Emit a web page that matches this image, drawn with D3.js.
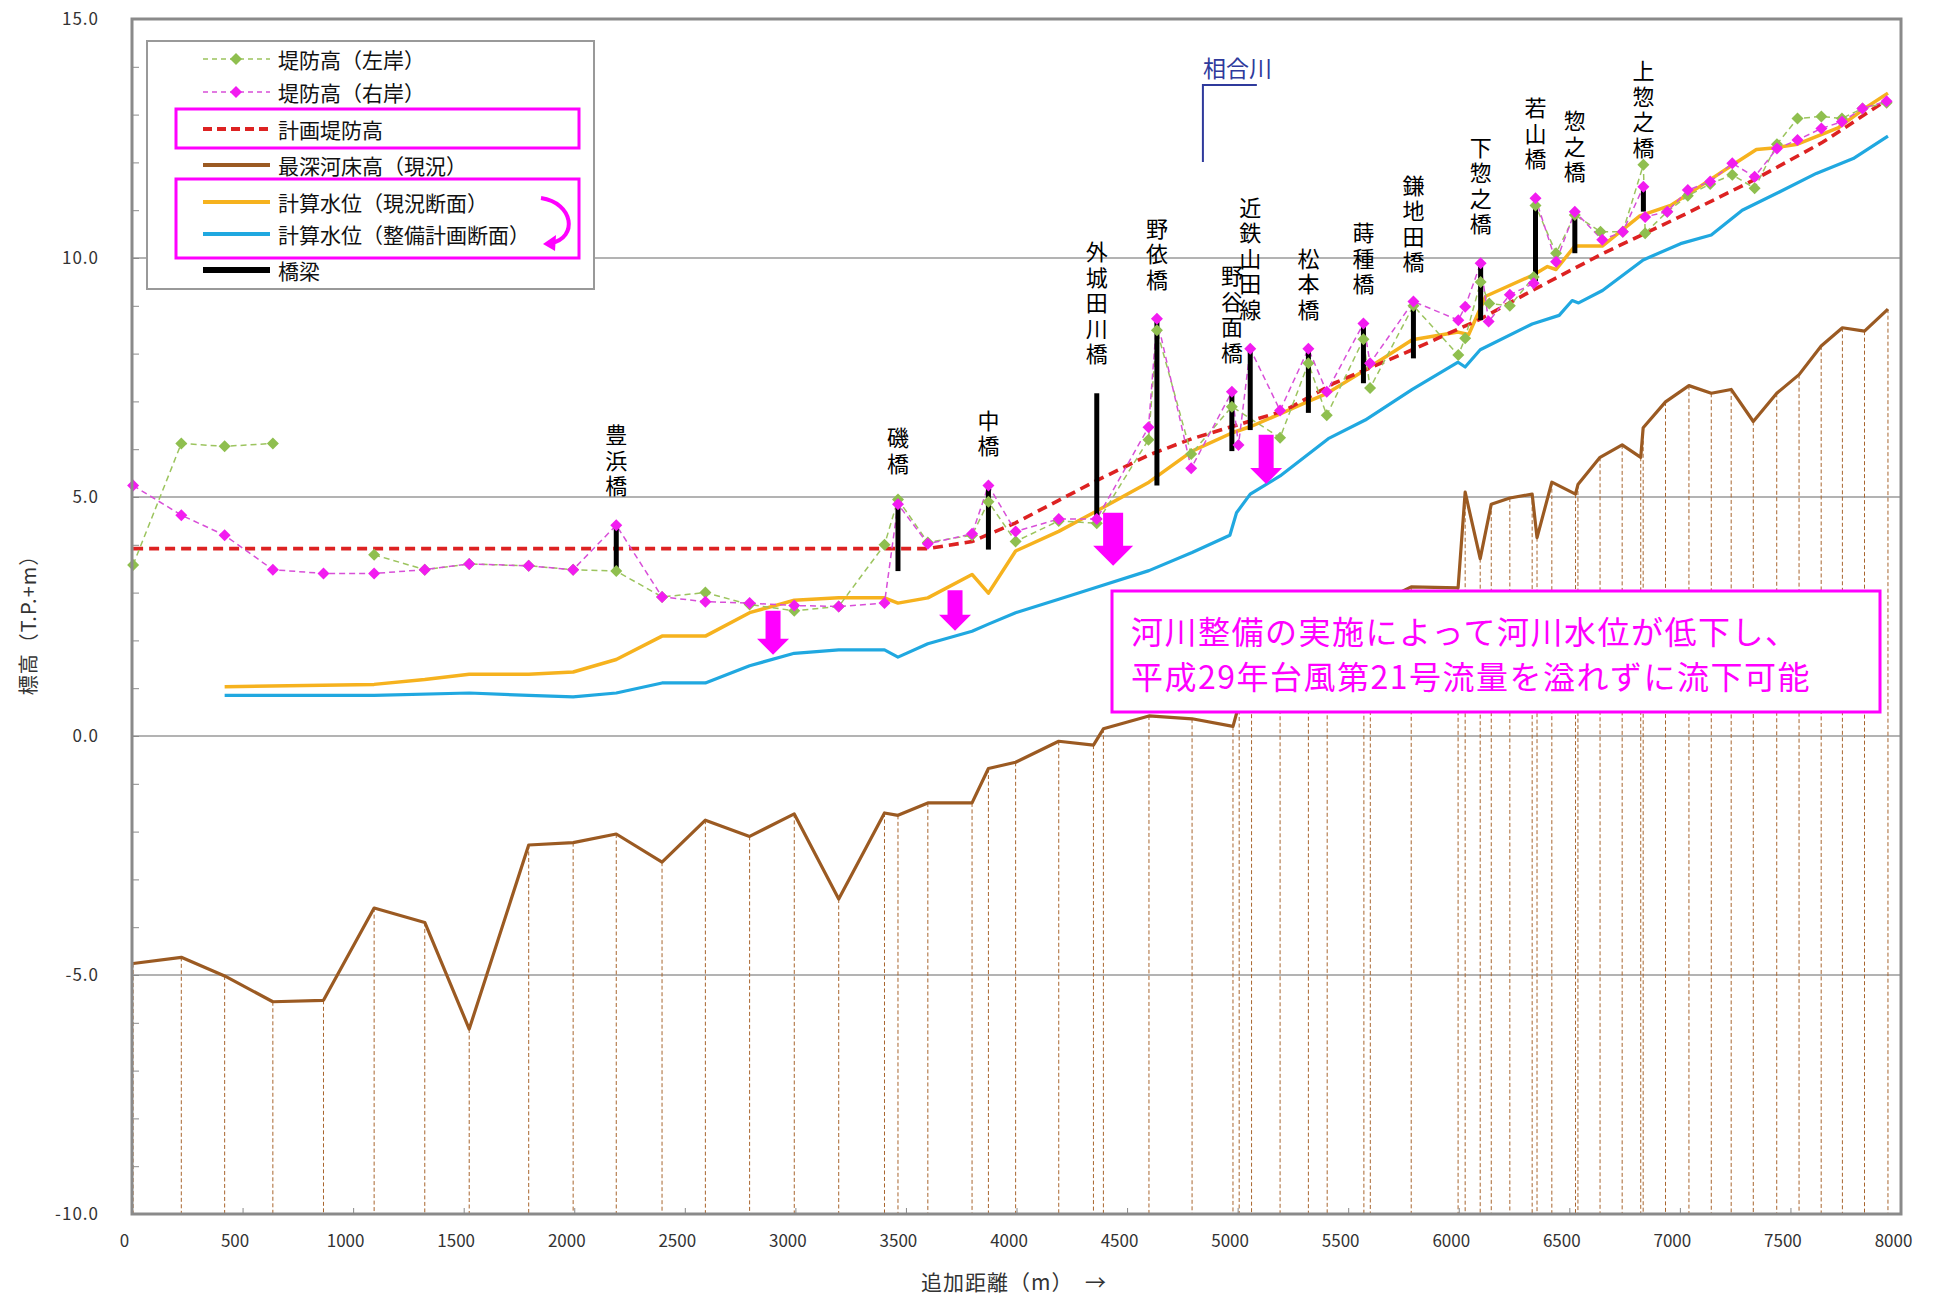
<!DOCTYPE html>
<html lang="ja">
<head>
<meta charset="UTF-8">
<title>縦断図 | 計算水位</title>
<style>
  body { margin: 0; background: #fff; }
  svg { display: block; }
  text { font-family: 'Noto Sans CJK JP', sans-serif; }
  .vert { writing-mode: vertical-rl; text-orientation: upright; }
</style>
</head>
<body>
<svg id="chart" width="1937" height="1295"></svg>
<script src="https://cdn.jsdelivr.net/npm/d3@7/dist/d3.min.js"></script>
<script>
// 追加距離(m) と 標高(T.P.+m)
var leftBankX  = [5, 223, 419, 637, 866, 1095, 1324, 1525, 1794, 1995, 2190, 2397, 2593, 2793, 2995, 3196, 3403, 3464, 3599, 3799, 3873, 3996, 4191, 4363, 4597, 4635, 4790, 4974, 5192, 5320, 5403, 5569, 5599, 5795, 5998, 6029, 6099, 6138, 6231, 6339, 6347, 6440, 6525, 6641, 6742, 6835, 6843, 6943, 7036, 7137, 7237, 7338, 7439, 7532, 7640, 7733, 7826, 7935];
var leftBankY  = [3.58, 6.12, 6.06, 6.12, null, 3.79, 3.48, 3.60, 3.56, 3.48, 3.45, 2.91, 3.00, 2.75, 2.62, 2.71, 4.00, 4.95, 4.05, 4.20, 4.90, 4.07, 4.50, 4.45, 6.20, 8.49, 5.90, 6.89, 6.24, 7.80, 6.71, 8.30, 7.28, 9.00, 7.97, 8.32, 9.50, 9.05, 9.00, 9.60, 11.10, 10.10, 10.90, 10.55, 10.55, 11.95, 10.52, 10.97, 11.30, 11.55, 11.74, 11.46, 12.38, 12.92, 12.96, 12.92, 13.13, 13.25];

var rightBankX = [5, 223, 419, 637, 866, 1095, 1324, 1525, 1794, 1995, 2190, 2397, 2593, 2793, 2995, 3196, 3403, 3464, 3599, 3799, 3873, 3996, 4191, 4363, 4597, 4635, 4790, 4974, 5004, 5057, 5192, 5320, 5403, 5569, 5599, 5795, 5998, 6029, 6099, 6135, 6231, 6339, 6347, 6440, 6525, 6649, 6742, 6835, 6843, 6943, 7036, 7137, 7237, 7338, 7439, 7532, 7640, 7733, 7826, 7935];
var rightBankY = [5.24, 4.62, 4.20, 3.48, 3.40, 3.40, 3.48, 3.60, 3.56, 3.48, 4.41, 2.91, 2.81, 2.78, 2.73, 2.71, 2.78, 4.85, 4.02, 4.23, 5.24, 4.28, 4.54, 4.54, 6.46, 8.73, 5.60, 7.20, 6.09, 8.10, 6.81, 8.10, 7.20, 8.63, 7.80, 9.09, 8.70, 8.98, 9.89, 8.67, 9.23, 9.47, 11.25, 9.92, 10.97, 10.38, 10.55, 11.49, 10.86, 10.97, 11.42, 11.60, 11.98, 11.70, 12.29, 12.47, 12.71, 12.85, 13.13, 13.28];

var planLeveeX = [5, 3599, 3799, 3996, 4191, 4348, 4599, 4794, 4979, 5214, 5436, 5790, 6097, 6332, 6650, 7003, 7338, 7645, 7941];
var planLeveeY = [3.92, 3.92, 4.07, 4.46, 4.93, 5.31, 5.88, 6.22, 6.48, 6.81, 7.38, 8.08, 8.72, 9.32, 10.09, 10.87, 11.64, 12.42, 13.32];

var bedX = [5, 223, 419, 637, 866, 1095, 1324, 1525, 1794, 1995, 2190, 2397, 2593, 2793, 2995, 3196, 3403, 3464, 3599, 3799, 3873, 3996, 4191, 4348, 4393, 4599, 4794, 4979, 5007, 5063, 5192, 5320, 5405, 5571, 5600, 5785, 5997, 6029, 6097, 6147, 6231, 6332, 6354, 6421, 6528, 6539, 6639, 6739, 6823, 6834, 6935, 7041, 7142, 7232, 7332, 7438, 7539, 7639, 7735, 7835, 7941];
var bedY = [-4.76, -4.63, -5.02, -5.56, -5.53, -3.60, -3.90, -6.13, -2.28, -2.23, -2.05, -2.64, -1.76, -2.10, -1.63, -3.41, -1.61, -1.66, -1.40, -1.40, -0.68, -0.55, -0.11, -0.19, 0.15, 0.42, 0.36, 0.20, 0.67, 1.00, 1.50, 1.90, 2.20, 2.60, 2.70, 3.12, 3.10, 5.10, 3.71, 4.85, 4.98, 5.06, 4.15, 5.31, 5.06, 5.26, 5.83, 6.09, 5.83, 6.45, 6.99, 7.33, 7.17, 7.25, 6.58, 7.17, 7.56, 8.16, 8.54, 8.47, 8.93];

var wlNowX = [419, 1095, 1324, 1525, 1794, 1995, 2190, 2397, 2593, 2793, 2995, 3196, 3403, 3464, 3599, 3799, 3873, 3996, 4191, 4348, 4599, 4794, 4979, 5063, 5192, 5320, 5405, 5571, 5790, 5997, 6045, 6122, 6339, 6401, 6440, 6525, 6649, 6819, 6958, 7098, 7222, 7346, 7423, 7532, 7718, 7842, 7941];
var wlNowY = [1.03, 1.08, 1.18, 1.29, 1.29, 1.34, 1.60, 2.09, 2.09, 2.58, 2.84, 2.89, 2.89, 2.78, 2.89, 3.38, 2.99, 3.87, 4.28, 4.67, 5.31, 5.96, 6.35, 6.48, 6.74, 7.00, 7.17, 7.64, 8.29, 8.45, 8.40, 9.20, 9.65, 9.82, 9.76, 10.25, 10.25, 10.88, 11.10, 11.52, 11.90, 12.27, 12.30, 12.38, 12.73, 13.15, 13.45];

var wlPlanX = [419, 1095, 1525, 1794, 1995, 2190, 2397, 2593, 2793, 2995, 3196, 3403, 3464, 3599, 3799, 3873, 3996, 4191, 4348, 4599, 4794, 4965, 4995, 5057, 5192, 5410, 5577, 5790, 5997, 6029, 6097, 6332, 6454, 6513, 6542, 6650, 6834, 7003, 7142, 7282, 7450, 7617, 7784, 7941];
var wlPlanY = [0.85, 0.85, 0.90, 0.85, 0.82, 0.90, 1.11, 1.11, 1.47, 1.73, 1.80, 1.80, 1.65, 1.93, 2.19, 2.34, 2.58, 2.86, 3.09, 3.46, 3.84, 4.20, 4.67, 5.06, 5.44, 6.22, 6.61, 7.25, 7.82, 7.72, 8.08, 8.62, 8.80, 9.11, 9.06, 9.32, 9.96, 10.30, 10.48, 11.00, 11.38, 11.77, 12.08, 12.55];

// 橋梁
var bridgeNames  = ['豊浜橋', '磯橋', '中橋', '外城田川橋', '野依橋', '野谷面橋', '近鉄山田線', '松本橋', '蒔種橋', '鎌地田橋', '下惣之橋', '若山橋', '惣之橋', '上惣之橋'];
var bridgeX      = [2190, 3464, 3873, 4363, 4635, 4974, 5057, 5320, 5569, 5795, 6099, 6347, 6525, 6835];
var bridgeTop    = [4.41, 4.88, 5.24, 7.17, 8.73, 7.20, 8.10, 8.10, 8.63, 9.09, 9.89, 11.25, 10.97, 11.49];
var bridgeBottom = [3.45, 3.45, 3.90, 4.54, 5.24, 5.96, 6.40, 6.76, 7.38, 7.90, 8.70, 9.52, 10.10, 10.97];

// 水位低下を示す矢印
var arrowX   = [2899, 3722, 4437, 5129];
var arrowTop = [2.62, 3.05, 4.67, 6.30];
var arrowTip = [1.70, 2.20, 3.56, 5.27];

var tributaryName = '相合川';
var tributaryX = 4843, tributaryEndX = 5087, tributaryLow = 12.01, tributaryHigh = 13.62;

var yTicks = [-10, -5, 0, 5, 10, 15];
var yGrid  = [-5, 0, 5, 10];
var xTicks = d3.range(0, 8001, 500);
var noteLines = ['河川整備の実施によって河川水位が低下し、', '平成29年台風第21号流量を溢れずに流下可能'];

var M = { left: 132, right: 1901, top: 19, bottom: 1214 };
var x = d3.scaleLinear().domain([0, 8000]).range([M.left, M.right]);
var y = d3.scaleLinear().domain([-10, 15]).range([M.bottom, M.top]);
var svg = d3.select('#chart');

function zip(xs, ys) { return xs.map(function (d, i) { return [d, ys[i]]; }); }
var line = d3.line().defined(function (d) { return d[1] != null; })
    .x(function (d) { return x(d[0]); }).y(function (d) { return y(d[1]); });
var diamond = 'M0,-6L6,0L0,6L-6,0Z';

// グリッド
svg.append('g').selectAll('line').data(yGrid).join('line')
    .attr('x1', M.left).attr('x2', M.right)
    .attr('y1', function (d) { return y(d); }).attr('y2', function (d) { return y(d); })
    .attr('stroke', '#9a9a9a').attr('stroke-width', 1.5);

var bed = zip(bedX, bedY);
svg.append('g').selectAll('line').data(bed).join('line')
    .attr('x1', function (d) { return x(d[0]); }).attr('x2', function (d) { return x(d[0]); })
    .attr('y1', function (d) { return y(d[1]); }).attr('y2', y(-10))
    .attr('stroke', '#a8652e').attr('stroke-width', 1).attr('stroke-dasharray', '4,2.5');

svg.append('path').datum(bed).attr('d', line)
    .attr('fill', 'none').attr('stroke', '#9b5a22').attr('stroke-width', 3.2).attr('stroke-linejoin', 'round');
svg.append('path').datum(zip(wlPlanX, wlPlanY)).attr('d', line)
    .attr('fill', 'none').attr('stroke', '#20a8e0').attr('stroke-width', 3.2).attr('stroke-linejoin', 'round');
svg.append('path').datum(zip(wlNowX, wlNowY)).attr('d', line)
    .attr('fill', 'none').attr('stroke', '#f6b21e').attr('stroke-width', 3.5).attr('stroke-linejoin', 'round');
svg.append('path').datum(zip(planLeveeX, planLeveeY)).attr('d', line)
    .attr('fill', 'none').attr('stroke', '#dd2222').attr('stroke-width', 3.6).attr('stroke-dasharray', '10,6');

var left = zip(leftBankX, leftBankY), right = zip(rightBankX, rightBankY);
svg.append('path').datum(left).attr('d', line)
    .attr('fill', 'none').attr('stroke', '#9cc45e').attr('stroke-width', 1.5).attr('stroke-dasharray', '6,4');
svg.append('path').datum(right).attr('d', line)
    .attr('fill', 'none').attr('stroke', '#d84fd8').attr('stroke-width', 1.5).attr('stroke-dasharray', '6,4');

// 橋梁
svg.append('g').selectAll('line').data(bridgeX).join('line')
    .attr('x1', function (d) { return x(d); }).attr('x2', function (d) { return x(d); })
    .attr('y1', function (d, i) { return y(bridgeTop[i]); })
    .attr('y2', function (d, i) { return y(bridgeBottom[i]); })
    .attr('stroke', '#000').attr('stroke-width', 5);

svg.append('g').selectAll('path').data(left.filter(function (d) { return d[1] != null; })).join('path')
    .attr('d', diamond).attr('fill', '#8fbf4f')
    .attr('transform', function (d) { return 'translate(' + x(d[0]) + ',' + y(d[1]) + ')'; });
svg.append('g').selectAll('path').data(right).join('path')
    .attr('d', diamond).attr('fill', '#f21cf0')
    .attr('transform', function (d) { return 'translate(' + x(d[0]) + ',' + y(d[1]) + ')'; });

// 枠と軸
svg.append('rect').attr('x', M.left).attr('y', M.top)
    .attr('width', M.right - M.left).attr('height', M.bottom - M.top)
    .attr('fill', 'none').attr('stroke', '#8a8a8a').attr('stroke-width', 3);

svg.append('g').attr('transform', 'translate(' + M.left + ',0)')
    .call(d3.axisRight(y).ticks(25).tickSize(7).tickFormat(''))
    .call(function (g) { g.select('.domain').remove(); g.selectAll('line').attr('stroke', '#8a8a8a'); });
svg.append('g').attr('transform', 'translate(0,' + M.bottom + ')')
    .call(d3.axisTop(x).tickValues(xTicks).tickSize(6).tickFormat(''))
    .call(function (g) { g.select('.domain').remove(); g.selectAll('line').attr('stroke', '#8a8a8a'); });

svg.append('g').attr('transform', 'translate(' + M.left + ',0)')
    .call(d3.axisLeft(y).tickValues(yTicks).tickSize(0).tickPadding(33)
        .tickFormat(function (d) { return d.toFixed(1); }))
    .call(function (g) {
        g.select('.domain').remove();
        g.selectAll('text').attr('font-family', "'Liberation Sans', Arial, sans-serif")
            .attr('font-size', 17).attr('fill', '#333').attr('letter-spacing', 1);
    });
svg.append('g').attr('transform', 'translate(0,' + M.bottom + ')')
    .call(d3.axisBottom(x).tickValues(xTicks).tickSize(0).tickPadding(21).tickFormat(d3.format('d')))
    .call(function (g) {
        g.select('.domain').remove();
        g.selectAll('text').attr('font-family', "'Liberation Sans', Arial, sans-serif")
            .attr('font-size', 17).attr('fill', '#333').attr('dx', -8);
    });

svg.append('text').attr('transform', 'translate(27,620) rotate(-90)')
    .attr('text-anchor', 'middle').attr('dominant-baseline', 'central')
    .attr('font-size', 20).attr('letter-spacing', 1).attr('fill', '#333').text('標高（T.P.+m）');
svg.append('text').attr('x', 1014).attr('y', 1281)
    .attr('text-anchor', 'middle').attr('dominant-baseline', 'central')
    .attr('font-size', 21).attr('letter-spacing', 1).attr('fill', '#333').text('追加距離（m）　→');

// 橋名(縦書き)
svg.append('g').selectAll('text').data(bridgeNames).join('text')
    .attr('class', 'vert')
    .attr('x', function (d, i) { return x(bridgeX[i]); })
    .attr('y', function (d, i) { return y(bridgeTop[i]) - 25; })
    .attr('text-anchor', 'end')
    .attr('font-size', 22).attr('letter-spacing', 3.5).attr('fill', '#000')
    .text(function (d) { return d; });

// 支川
svg.append('path')
    .attr('d', 'M' + x(tributaryX) + ',' + y(tributaryLow) + 'V' + y(tributaryHigh) + 'H' + x(tributaryEndX))
    .attr('fill', 'none').attr('stroke', '#2f3a9c').attr('stroke-width', 2);
svg.append('text').attr('x', x(tributaryX)).attr('y', y(tributaryHigh) - 8)
    .attr('font-size', 23).attr('fill', '#2f3a9c').text(tributaryName);

// 矢印
arrowX.forEach(function (ax, i) {
    var big = i === 2;
    var sw = big ? 10 : 7.5, hw = big ? 20 : 16, hl = big ? 20 : 16;
    var cx = x(ax), t = y(arrowTop[i]), b = y(arrowTip[i]);
    svg.append('path')
        .attr('d', 'M' + (cx - sw) + ',' + t + 'H' + (cx + sw) + 'V' + (b - hl) + 'H' + (cx + hw) +
            'L' + cx + ',' + b + 'L' + (cx - hw) + ',' + (b - hl) + 'H' + (cx - sw) + 'Z')
        .attr('fill', '#ff00ff');
});

// 注記
svg.append('rect').attr('x', 1112).attr('y', 591).attr('width', 768).attr('height', 121)
    .attr('fill', '#fff').attr('stroke', '#ff00ff').attr('stroke-width', 3);
svg.append('g').selectAll('text').data(noteLines).join('text')
    .attr('x', 1131).attr('y', function (d, i) { return 644 + i * 45; })
    .attr('font-size', 32).attr('letter-spacing', 1.5).attr('fill', '#ff00ff')
    .text(function (d) { return d; });

// 凡例
var legendItems = [
    { label: '堤防高（左岸）', color: '#9cc45e', width: 1.5, dash: '5,4', marker: '#8fbf4f' },
    { label: '堤防高（右岸）', color: '#d84fd8', width: 1.5, dash: '5,4', marker: '#f21cf0' },
    { label: '計画堤防高', color: '#dd2222', width: 4, dash: '9,5' },
    { label: '最深河床高（現況）', color: '#9b5a22', width: 4 },
    { label: '計算水位（現況断面）', color: '#f6b21e', width: 4 },
    { label: '計算水位（整備計画断面）', color: '#20a8e0', width: 4 },
    { label: '橋梁', color: '#000', width: 6 }
];
var legendY = [59, 92, 129, 165, 202, 234, 270];
var lg = svg.append('g');
lg.append('rect').attr('x', 147).attr('y', 41).attr('width', 447).attr('height', 248)
    .attr('fill', '#fff').attr('stroke', '#999').attr('stroke-width', 2);
legendItems.forEach(function (d, i) {
    var ly = legendY[i];
    lg.append('line').attr('x1', 203).attr('x2', 270).attr('y1', ly).attr('y2', ly)
        .attr('stroke', d.color).attr('stroke-width', d.width).attr('stroke-dasharray', d.dash || null);
    if (d.marker) {
        lg.append('path').attr('d', diamond).attr('fill', d.marker)
            .attr('transform', 'translate(236,' + ly + ')');
    }
    lg.append('text').attr('x', 278).attr('y', ly).attr('dominant-baseline', 'central')
        .attr('font-size', 21).attr('fill', '#111').text(d.label);
});
lg.append('rect').attr('x', 176).attr('y', 109).attr('width', 403).attr('height', 39)
    .attr('fill', 'none').attr('stroke', '#ff00ff').attr('stroke-width', 3);
lg.append('rect').attr('x', 176).attr('y', 179).attr('width', 403).attr('height', 79)
    .attr('fill', 'none').attr('stroke', '#ff00ff').attr('stroke-width', 3);
lg.append('path').attr('d', 'M541,198 C574,203 578,238 551,243')
    .attr('fill', 'none').attr('stroke', '#ff00ff').attr('stroke-width', 4);
lg.append('path').attr('d', 'M543,244 L556,235 L555,251 Z').attr('fill', '#ff00ff');
</script>
</body>
</html>
